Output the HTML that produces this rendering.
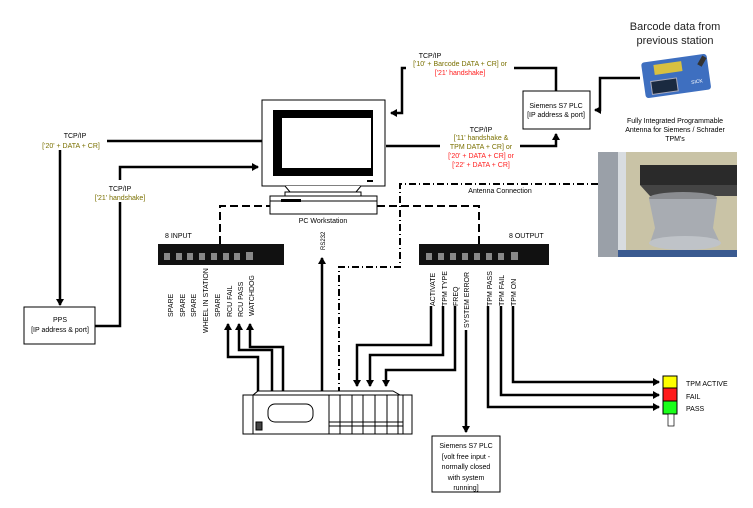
<!DOCTYPE html>
<html><head><meta charset="utf-8"><style>
html,body{margin:0;padding:0;background:#fff;width:753px;height:508px;overflow:hidden}
svg text{font-family:"Liberation Sans",sans-serif;font-size:7px;fill:#000}
.o{fill:#7a7000}.r{fill:#ff2020}
</style></head><body>
<svg width="753" height="508" viewBox="0 0 753 508" xmlns="http://www.w3.org/2000/svg">
<defs>
<marker id="a" markerWidth="8" markerHeight="8" refX="6" refY="4" orient="auto" markerUnits="userSpaceOnUse"><path d="M0,0L7,4L0,8z" fill="#000"/></marker>
</defs>
<g fill="none" stroke="#000" stroke-width="2.5">
<path d="M107,141H262"/>
<path d="M60,150V305" marker-end="url(#a)"/>
<path d="M95,326H120V167H258" marker-end="url(#a)"/>
<path d="M556,91V68H514"/>
<path d="M406,68H402V113H391" marker-end="url(#a)"/>
<path d="M386,146H440"/>
<path d="M520,146H556V134" marker-end="url(#a)"/>
<path d="M640,78H600V110H595" marker-end="url(#a)"/>
<path d="M258,393V357H228V324" marker-end="url(#a)"/>
<path d="M272,393V350H239V324" marker-end="url(#a)"/>
<path d="M283,393V347H250V324" marker-end="url(#a)"/>
<path d="M322,391V258" marker-end="url(#a)"/>
<path d="M431,306V345H357V386" marker-end="url(#a)"/>
<path d="M443,306V355H370V386" marker-end="url(#a)"/>
<path d="M455,306V370H386V386" marker-end="url(#a)"/>
<path d="M466,330V432" marker-end="url(#a)"/>
<path d="M488,306V407H659" marker-end="url(#a)"/>
<path d="M501,306V395H659" marker-end="url(#a)"/>
<path d="M513,306V382H659" marker-end="url(#a)"/>
</g>
<g fill="none" stroke="#000" stroke-width="2">
<path d="M220,244V206H270" stroke-dasharray="8,4"/>
<path d="M377,206H479V244" stroke-dasharray="8,4"/>
<path d="M598,184H400V267H339V392" stroke-dasharray="7,3,1,3"/>
</g>
<rect x="262" y="100" width="123" height="86" fill="#fff" stroke="#000"/>
<rect x="273" y="110" width="100" height="66" fill="#000"/>
<rect x="282" y="118" width="89" height="50" fill="#fff"/>
<rect x="367" y="180" width="6" height="2" fill="#000"/>
<path d="M285,186L290,192H356L361,186" fill="#fff" stroke="#000"/>
<rect x="285" y="192" width="76" height="4" fill="#fff" stroke="#000"/>
<rect x="270" y="196" width="107" height="18" fill="#fff" stroke="#000"/>
<line x1="270" y1="201" x2="377" y2="201" stroke="#000"/>
<rect x="281" y="199" width="20" height="3" fill="#000"/>
<text x="323" y="223" text-anchor="middle">PC Workstation</text>
<rect x="36" y="129" width="70" height="20" fill="#fff"/>
<text x="75" y="138" text-anchor="middle">TCP/IP</text>
<text x="71" y="148" text-anchor="middle" class="o">['20'  + DATA + CR]</text>
<rect x="90" y="180" width="60" height="22" fill="#fff"/>
<text x="120" y="191" text-anchor="middle">TCP/IP</text>
<text x="120" y="200" text-anchor="middle" class="o">['21' handshake]</text>
<rect x="24" y="307" width="71" height="37" fill="#fff" stroke="#000"/>
<text x="60" y="322" text-anchor="middle">PPS</text>
<text x="60" y="332" text-anchor="middle">[IP address &amp; port]</text>
<text x="430" y="58" text-anchor="middle">TCP/IP</text>
<text x="460" y="66" text-anchor="middle" class="o">['10' + Barcode DATA + CR] or</text>
<text x="460" y="75" text-anchor="middle" class="r">['21' handshake]</text>
<rect x="523" y="91" width="67" height="38" fill="#fff" stroke="#000"/>
<text x="556" y="108" text-anchor="middle">Siemens S7 PLC</text>
<text x="556" y="117" text-anchor="middle">[IP address &amp; port]</text>
<text x="481" y="132" text-anchor="middle">TCP/IP</text>
<text x="481" y="140" text-anchor="middle" class="o">['11' handshake &amp;</text>
<text x="481" y="149" text-anchor="middle" class="o">TPM DATA + CR] or</text>
<text x="481" y="158" text-anchor="middle" class="r">['20' + DATA + CR] or</text>
<text x="481" y="167" text-anchor="middle" class="r">['22' + DATA + CR]</text>
<text x="675" y="30" text-anchor="middle" style="font-size:11px;fill:#222">Barcode data from</text>
<text x="675" y="44" text-anchor="middle" style="font-size:11px;fill:#222">previous station</text>
<text x="675" y="123" text-anchor="middle">Fully Integrated Programmable</text>
<text x="675" y="132" text-anchor="middle">Antenna for Siemens / Schrader</text>
<text x="675" y="141" text-anchor="middle">TPM's</text>
<text x="500" y="193" text-anchor="middle">Antenna Connection</text>
<g transform="rotate(-8 676 75)">
<rect x="643" y="58" width="66" height="36" rx="3" fill="#3e6fc0"/>
<rect x="655" y="62" width="28" height="10" fill="#d8c040"/>
<rect x="650" y="78" width="26" height="13" fill="#1a2a40" stroke="#aab" />
<text x="690" y="86" style="font-size:5px;fill:#fff">SICK</text>
</g>
<rect x="700" y="56" width="5" height="10" fill="#333" transform="rotate(30 702 60)"/>
<rect x="598" y="152" width="139" height="105" fill="#c9c3a6"/>
<rect x="598" y="152" width="20" height="105" fill="#9aa0a8"/>
<rect x="618" y="152" width="8" height="105" fill="#d8dce0"/>
<rect x="640" y="165" width="97" height="20" fill="#2a2a2a"/>
<path d="M640,185H737V196H650z" fill="#444"/>
<ellipse cx="683" cy="198" rx="34" ry="6" fill="#8a8c90"/>
<path d="M649,199L655,228L650,243H720L713,228L717,199z" fill="#a8acb2"/>
<ellipse cx="685" cy="243" rx="36" ry="7" fill="#bfc3c8"/>
<rect x="618" y="250" width="119" height="7" fill="#3a5a90"/>
<rect x="158" y="244" width="126" height="21" fill="#111"/>
<rect x="419" y="244" width="130" height="21" fill="#111"/>
<g fill="#888">
<rect x="164" y="253" width="6" height="7"/><rect x="176" y="253" width="6" height="7"/><rect x="187" y="253" width="6" height="7"/><rect x="199" y="253" width="6" height="7"/><rect x="211" y="253" width="6" height="7"/><rect x="223" y="253" width="6" height="7"/><rect x="234" y="253" width="6" height="7"/><rect x="246" y="252" width="7" height="8"/>
<rect x="426" y="253" width="6" height="7"/><rect x="438" y="253" width="6" height="7"/><rect x="450" y="253" width="6" height="7"/><rect x="462" y="253" width="6" height="7"/><rect x="474" y="253" width="6" height="7"/><rect x="486" y="253" width="6" height="7"/><rect x="498" y="253" width="6" height="7"/><rect x="511" y="252" width="7" height="8"/>
</g>
<text x="165" y="238">8 INPUT</text>
<text x="509" y="238">8 OUTPUT</text>
<g>
<text transform="translate(173,317) rotate(-90)">SPARE</text>
<text transform="translate(185,317) rotate(-90)">SPARE</text>
<text transform="translate(196,317) rotate(-90)">SPARE</text>
<text transform="translate(208,333) rotate(-90)">WHEEL IN STATION</text>
<text transform="translate(220,317) rotate(-90)">SPARE</text>
<text transform="translate(232,317) rotate(-90)">RCU FAIL</text>
<text transform="translate(243,317) rotate(-90)">RCU PASS</text>
<text transform="translate(254,316) rotate(-90)">WATCHDOG</text>
<text transform="translate(325,250) rotate(-90)" style="font-size:6px">RS232</text>
<text transform="translate(435,306) rotate(-90)">ACTIVATE</text>
<text transform="translate(447,306) rotate(-90)">TPM TYPE</text>
<text transform="translate(458,306) rotate(-90)">FREQ</text>
<text transform="translate(469,328) rotate(-90)">SYSTEM ERROR</text>
<text transform="translate(492,306) rotate(-90)">TPM PASS</text>
<text transform="translate(504,306) rotate(-90)">TPM FAIL</text>
<text transform="translate(516,306) rotate(-90)">TPM ON</text>
</g>
<g fill="#fff" stroke="#000" stroke-width="1">
<path d="M253,395L258,391H393L400,395"/>
<rect x="243" y="395" width="169" height="39"/>
<rect x="253" y="395" width="150" height="39"/>
<rect x="268" y="404" width="45" height="18" rx="7"/>
<rect x="256" y="422" width="6" height="8" fill="#444"/>
<path d="M329,395V434M340,395V434M352,395V434M363,395V434M375,395V434M387,395V434M398,395V434"/>
<path d="M329,422H403M329,426H403"/>
</g>
<rect x="663" y="376" width="14" height="12" fill="#ffff00" stroke="#000"/>
<rect x="663" y="388" width="14" height="13" fill="#ff1a1a" stroke="#000"/>
<rect x="663" y="401" width="14" height="13" fill="#1aff1a" stroke="#000"/>
<rect x="668" y="414" width="6" height="12" fill="#fff" stroke="#000" stroke-width="0.7"/>
<text x="686" y="386">TPM ACTIVE</text>
<text x="686" y="399">FAIL</text>
<text x="686" y="411">PASS</text>
<rect x="432" y="436" width="68" height="56" fill="#fff" stroke="#000"/>
<text x="466" y="448" text-anchor="middle">Siemens S7 PLC</text>
<text x="466" y="459" text-anchor="middle">[volt free input -</text>
<text x="466" y="469" text-anchor="middle">normally closed</text>
<text x="466" y="480" text-anchor="middle">with system</text>
<text x="466" y="490" text-anchor="middle">running]</text>
</svg>
</body></html>
